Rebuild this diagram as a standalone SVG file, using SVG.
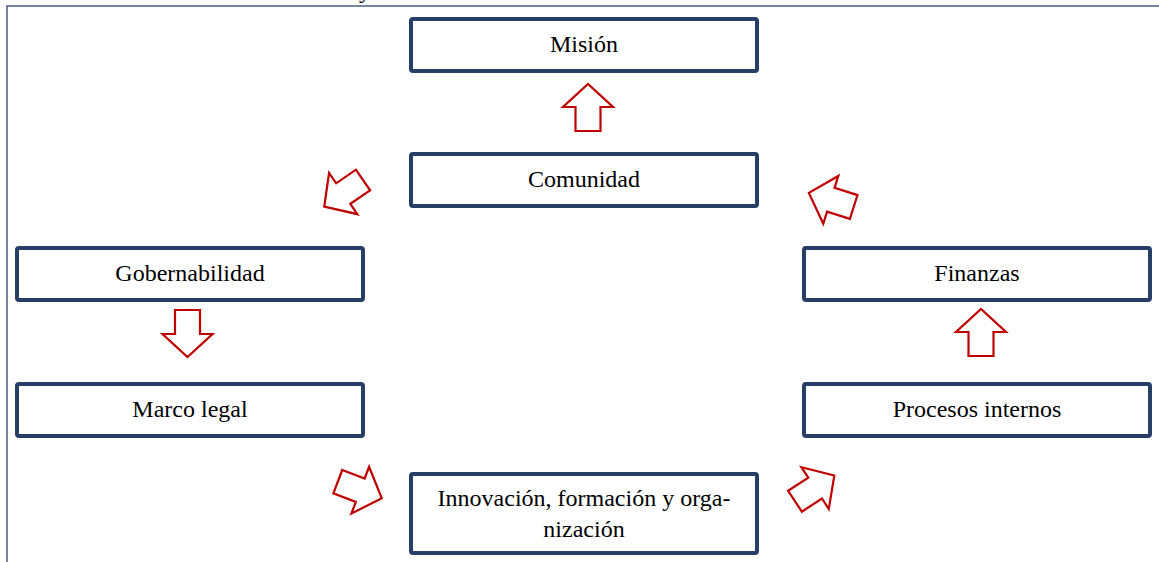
<svg xmlns="http://www.w3.org/2000/svg" width="1159" height="562" viewBox="0 0 1159 562">
<style>
.box{fill:#fff;stroke:#273F66;stroke-width:4;}
.lbl{font-family:"Liberation Serif","Times New Roman",serif;font-size:24px;fill:#000;text-anchor:middle;}
.arr{fill:#fff;stroke:#C00000;stroke-width:2.2;stroke-linejoin:miter;}
.frame{stroke:#4A5E7E;stroke-width:1.5;fill:none;}
</style>
<defs>
<polygon id="arrow" points="0,-12.5 24,-12.5 24,-25 47,0 24,25 24,12.5 0,12.5"/>
</defs>
<rect width="1159" height="562" fill="#fff"/>
<path class="frame" d="M7,562 V6 H1159"/>
<text class="lbl" x="365" y="-2">y</text>
<g id="mision"><rect class="box" x="411" y="19" width="346" height="52" rx="2"/><text class="lbl" x="584" y="52">Misión</text></g>
<g id="comunidad"><rect class="box" x="411" y="154" width="346" height="52" rx="2"/><text class="lbl" x="584" y="187">Comunidad</text></g>
<g id="gobernabilidad"><rect class="box" x="17" y="248" width="346" height="52" rx="2"/><text class="lbl" x="190" y="281">Gobernabilidad</text></g>
<g id="marco"><rect class="box" x="17" y="384" width="346" height="52" rx="2"/><text class="lbl" x="190" y="417">Marco legal</text></g>
<g id="finanzas"><rect class="box" x="804" y="248" width="346" height="52" rx="2"/><text class="lbl" x="977" y="281">Finanzas</text></g>
<g id="procesos"><rect class="box" x="804" y="384" width="346" height="52" rx="2"/><text class="lbl" x="977" y="417">Procesos internos</text></g>
<g id="innovacion"><rect class="box" x="411" y="474" width="346" height="79" rx="2"/><text class="lbl" x="584" y="506">Innovación, formación y orga-</text><text class="lbl" x="584" y="537">nización</text></g>
<g id="connectors">
<use href="#arrow" class="arr" transform="translate(588,131) rotate(-90)"/>
<use href="#arrow" class="arr" transform="translate(187.5,310) rotate(90)"/>
<use href="#arrow" class="arr" transform="translate(981,356) rotate(-90)"/>
<use href="#arrow" class="arr" transform="translate(363,180) rotate(145.5)"/>
<use href="#arrow" class="arr" transform="translate(853.7,207) rotate(-162.5)"/>
<use href="#arrow" class="arr" transform="translate(337.8,481.7) rotate(20.7)"/>
<use href="#arrow" class="arr" transform="translate(795,501.2) rotate(-33.2)"/>
</g>
</svg>
